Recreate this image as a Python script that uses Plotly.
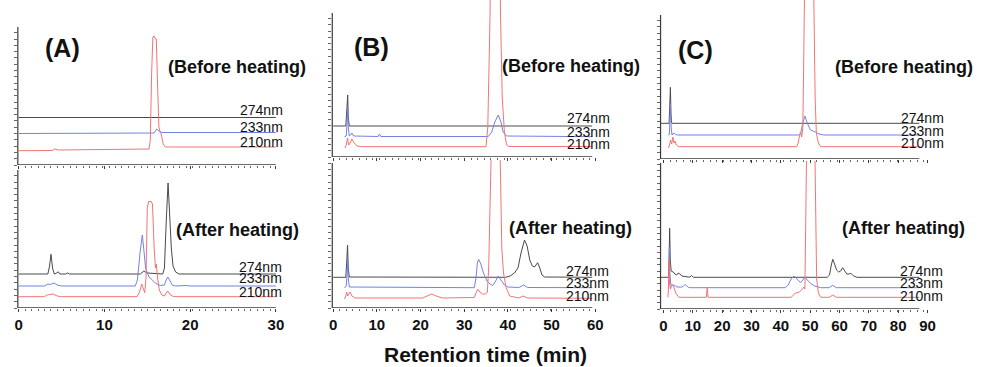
import plotly.graph_objects as go

W, H = 982, 367

# ---------------- data (retention time in min, signal in arbitrary units) ----------------
# Panel A, before heating
A_before_274_t = [0, 30]
A_before_274_y = [47.5, 47.5]
A_before_233_t = [0, 15.8, 16.1, 16.35, 16.7, 30]
A_before_233_y = [31.5, 32, 36, 34, 32.5, 32.5]
A_before_210_t = [0, 3.9, 4.2, 4.6, 15.2, 15.35, 15.5, 15.65, 15.8, 15.95, 16.05, 16.2, 16.35, 16.5, 16.65, 16.85, 17.1, 30]
A_before_210_y = [14.3, 14.5, 16, 15, 16, 25, 90, 128, 129, 126, 126, 80, 38, 33, 30, 21, 18, 18]

# Panel A, after heating
A_after_274_t = [0, 3.4, 3.6, 3.77, 3.95, 4.15, 4.45, 4.6, 4.8, 5.5, 5.7, 5.9, 14.2, 14.6, 15.0, 16.8, 17.0, 17.2, 17.42, 17.6, 17.8, 18.0, 18.3, 18.7, 30]
A_after_274_y = [34, 34, 42, 53.7, 40, 34, 35, 36.3, 34, 34, 35, 34, 34, 37, 35, 34, 40, 85, 125, 95, 60, 42, 36, 34, 34]
A_after_233_t = [0, 3.0, 3.4, 3.7, 4.1, 4.5, 5.0, 13.6, 13.85, 14.15, 14.42, 14.6, 14.8, 15.2, 15.6, 16.0, 16.5, 17.0, 17.2, 17.4, 17.6, 17.9, 18.3, 19.5, 20, 30]
A_after_233_y = [22, 22, 24, 23.5, 25, 23, 22, 22, 28, 55, 73, 58, 40, 31, 28, 24.5, 22.5, 23, 28, 31, 28, 23, 22, 22.5, 22, 22]
A_after_210_t = [0, 3.0, 3.3, 3.6, 4.0, 4.5, 5.0, 13.8, 14.1, 14.35, 14.55, 14.7, 14.85, 15.0, 15.15, 15.45, 15.6, 15.8, 15.95, 16.05, 16.2, 16.4, 16.7, 17.0, 17.2, 17.4, 17.7, 18.1, 30]
A_after_210_y = [11.3, 11.3, 13, 13.5, 14, 12, 11.3, 11.3, 16, 24, 19, 15.3, 30, 100, 106.5, 106.5, 104, 60, 40, 44, 30, 18, 13, 12, 15, 17, 13, 11.3, 11.3]

# Panel B, before heating
B_before_274_t = [0, 2.9, 3.1, 3.33, 3.45, 3.7, 59.3]
B_before_274_y = [31, 31, 45, 62, 40, 31, 31]
B_before_233_t = [2.6, 3.0, 3.2, 3.33, 3.45, 3.7, 4.0, 4.3, 4.7, 10.3, 10.6, 10.9, 35.5, 36.3, 37.0, 37.8, 38.4, 38.9, 39.7, 59.3]
B_before_233_y = [20.3, 21, 35, 50, 30, 21, 22, 24, 21, 20.5, 23, 20.5, 20.5, 25, 35, 42, 35, 25, 21, 20.3]
B_before_210_t = [2.7, 3.0, 3.3, 3.55, 3.9, 4.3, 4.8, 5.5, 6.5, 35.0, 35.4, 35.92, 36.1, 38.1, 38.3, 38.7, 39.2, 39.7, 40.2, 59.3]
B_before_210_y = [9, 12, 19, 12, 14, 18, 14, 11, 10.3, 10.3, 30, 144, 300, 300, 144, 60, 25, 12, 10.5, 10.5]

# Panel B, after heating
B_after_274_t = [0, 2.9, 3.1, 3.3, 3.45, 3.7, 39.5, 40.5, 41.5, 42.3, 43.0, 43.8, 44.4, 45.0, 45.6, 46.1, 46.8, 47.3, 47.8, 48.4, 59.3]
B_after_274_y = [30.7, 30.7, 45, 63, 40, 31, 30.7, 32, 35, 40, 55, 68, 62, 48, 42, 41, 45.3, 40, 33, 31, 30.7]
B_after_233_t = [2.6, 3.0, 3.2, 3.33, 3.45, 3.7, 32.3, 32.7, 33.0, 33.3, 33.8, 34.4, 35.2, 35.9, 36.5, 37.2, 37.8, 38.4, 39.2, 40.0, 42.5, 43.6, 44.5, 59.3]
B_after_233_y = [20, 22, 35, 48, 30, 21, 20.3, 30, 45, 48.7, 44, 35, 27, 24, 22.5, 27, 32, 28, 23, 21, 20.5, 23, 20.5, 20.3]
B_after_210_t = [2.6, 2.9, 3.1, 3.3, 3.6, 3.9, 4.3, 5.0, 20.5, 21.5, 22.6, 23.6, 25.0, 32.3, 32.7, 33.1, 33.6, 34.2, 34.9, 35.3, 35.6, 36.2, 38.2, 38.6, 39.0, 39.6, 40.4, 42.5, 43.5, 44.5, 59.3]
B_after_210_y = [9, 12, 16, 12, 14, 16, 12, 10, 10, 12, 14, 12, 10, 10.5, 15, 18.7, 16, 14, 14, 16, 40, 160, 160, 60, 35, 20, 12, 10, 12, 10, 9.7]

# Panel C, before heating
C_before_274_t = [-1, 1.9, 2.1, 2.36, 2.55, 2.8, 87.2]
C_before_274_y = [35.7, 35.7, 50, 71.7, 45, 35.7, 35.7]
C_before_233_t = [1.6, 2.0, 2.2, 2.4, 2.6, 2.9, 3.5, 4.1, 4.8, 46.0, 46.7, 47.5, 48.2, 49.0, 50.1, 51.8, 53.0, 54.6, 87.2]
C_before_233_y = [24, 24.5, 40, 55, 32, 24, 26, 24.5, 24, 24, 25, 36, 43, 36, 29, 27, 25, 24, 24]
C_before_210_t = [1.6, 2.0, 2.4, 2.8, 3.2, 3.6, 3.9, 4.4, 5.2, 45.4, 45.9, 46.3, 46.7, 47.1, 47.5, 48.1, 51.2, 51.7, 52.1, 52.8, 53.6, 87.2]
C_before_210_y = [11, 13, 19, 15, 22, 16, 18, 14, 12.3, 12.3, 16, 22, 27, 22, 30, 170, 170, 60, 26, 16, 12.3, 12.3]

# Panel C, after heating
C_after_274_t = [-1, 1.7, 1.95, 2.1, 2.3, 2.6, 3.3, 3.9, 4.5, 5.0, 5.6, 6.3, 8.4, 9.0, 9.6, 10.2, 55.8, 56.6, 57.2, 57.7, 58.3, 59.0, 59.7, 60.4, 61.1, 61.8, 62.5, 63.2, 63.9, 64.8, 65.9, 87.2]
C_after_274_y = [31.7, 31.7, 55, 80.7, 50, 38, 37, 35, 34, 36, 35, 33, 32, 32, 33.5, 31.7, 31.7, 34, 44, 49.7, 45, 39, 37, 38, 41.3, 38, 35, 35, 35.7, 33, 31.7, 31.7]
C_after_233_t = [1.5, 1.8, 2.0, 2.2, 2.5, 3.0, 3.8, 4.6, 6.5, 7.4, 8.3, 9.0, 41.5, 42.5, 43.5, 44.5, 45.5, 46.7, 47.5, 48.2, 49.0, 50.1, 51.5, 53.6, 56.5, 57.7, 58.9, 87.2]
C_after_233_y = [21.3, 22, 62, 35, 24, 24, 23.5, 22, 22, 24.7, 22, 21.3, 21.3, 24, 30, 33, 30, 26.3, 29, 32.3, 29, 25.7, 23, 21.3, 21.3, 23.7, 21.3, 21.3]
C_after_210_t = [1.5, 1.7, 1.9, 2.1, 2.4, 2.8, 3.3, 4.2, 5.2, 14.6, 14.9, 15.2, 43.5, 44.9, 46.3, 47.1, 47.9, 48.2, 48.8, 51.6, 52.2, 52.8, 53.6, 56.5, 57.7, 58.9, 87.2]
C_after_210_y = [11.7, 20, 50, 25, 20, 24, 24, 16, 11.7, 11.7, 21.3, 11.7, 11.7, 15.7, 17, 19, 22, 20, 160, 160, 30, 16, 11.7, 11.7, 14, 11.7, 11.7]

wavelengths = ["274nm", "233nm", "210nm"]
panel_letters = ["(A)", "(B)", "(C)"]
condition_labels = ["(Before heating)", "(After heating)"]
x_tick_labels_A = [0, 10, 20, 30]
x_tick_labels_B = [0, 10, 20, 30, 40, 50, 60]
x_tick_labels_C = [0, 10, 20, 30, 40, 50, 60, 70, 80, 90]
x_axis_title = "Retention time (min)"

# ---------------- styling / layout helpers ----------------
C_BLACK = "#4a4a4a"
C_BLUE = "#7482e2"
C_RED = "#f27474"
AXIS_C = "#3a3a3a"
FONT = "Liberation Sans, Arial, sans-serif"


def pxx(x):
    return x / W


def pxy(y):
    return 1 - y / H


subplots = [
    dict(xl=15, xr=276, yt=27, yb=165, at=27, xr_=[-0.1, 30], xend=30, ticks=x_tick_labels_A, lab=False),
    dict(xl=15, xr=276, yt=170, yb=308, at=170, xr_=[-0.1, 30], xend=30, ticks=x_tick_labels_A, lab=True),
    dict(xl=333, xr=599, yt=0, yb=157, at=13, xr_=[-0.2, 60], xend=59.3, ticks=x_tick_labels_B, lab=False),
    dict(xl=333, xr=599, yt=160, yb=308, at=163, xr_=[-0.2, 60], xend=59.3, ticks=x_tick_labels_B, lab=True),
    dict(xl=665, xr=935, yt=0, yb=159, at=15, xr_=[-1, 90], xend=87.2, ticks=x_tick_labels_C, lab=False),
    dict(xl=665, xr=935, yt=161, yb=309, at=163, xr_=[-1, 90], xend=87.2, ticks=x_tick_labels_C, lab=True),
]

series = [
    [(A_before_274_t, A_before_274_y), (A_before_233_t, A_before_233_y), (A_before_210_t, A_before_210_y)],
    [(A_after_274_t, A_after_274_y), (A_after_233_t, A_after_233_y), (A_after_210_t, A_after_210_y)],
    [(B_before_274_t, B_before_274_y), (B_before_233_t, B_before_233_y), (B_before_210_t, B_before_210_y)],
    [(B_after_274_t, B_after_274_y), (B_after_233_t, B_after_233_y), (B_after_210_t, B_after_210_y)],
    [(C_before_274_t, C_before_274_y), (C_before_233_t, C_before_233_y), (C_before_210_t, C_before_210_y)],
    [(C_after_274_t, C_after_274_y), (C_after_233_t, C_after_233_y), (C_after_210_t, C_after_210_y)],
]
colors = [C_BLACK, C_BLUE, C_RED]

fig = go.Figure()
layout = dict(
    width=W, height=H, margin=dict(l=0, r=0, t=0, b=0),
    paper_bgcolor="white", plot_bgcolor="white", showlegend=False,
    font=dict(family=FONT, color="#111"),
)
shapes = []

for i, sp in enumerate(subplots):
    n = i + 1
    xa = "x" if n == 1 else f"x{n}"
    ya = "y" if n == 1 else f"y{n}"
    ymax = sp["yb"] - sp["yt"]
    axis_h = sp["yb"] - sp["at"]
    for (t, v), c in zip(series[i], colors):
        fig.add_trace(go.Scatter(x=t, y=v, mode="lines", line=dict(color=c, width=1, simplify=False),
                                 xaxis=xa, yaxis=ya, hoverinfo="skip"))
    span = sp["xr_"][1] - sp["xr_"][0]
    layout["xaxis" if n == 1 else f"xaxis{n}"] = dict(
        domain=[pxx(sp["xl"]), pxx(sp["xr"])], range=sp["xr_"], anchor=ya,
        showgrid=False, zeroline=False, showline=False,
        tickmode="array", tickvals=sp["ticks"], ticktext=[str(v) for v in sp["ticks"]],
        showticklabels=sp["lab"], ticks="outside", ticklen=3, tickwidth=1, tickcolor=AXIS_C,
        tickfont=dict(family=FONT, size=15, color="#111", weight="bold"),
        minor=dict(ticks="outside", dtick=span / 40, ticklen=2, tickcolor="#666", showgrid=False),
        fixedrange=True,
    )
    ytick_vals = [k * 6.3 for k in range(int(axis_h / 6.3) + 1)]
    layout["yaxis" if n == 1 else f"yaxis{n}"] = dict(
        domain=[pxy(sp["yb"]), pxy(sp["yt"])], range=[0, ymax], anchor=xa,
        showgrid=False, zeroline=False, showline=False, showticklabels=False,
        tickmode="array", tickvals=ytick_vals, ticks="outside", ticklen=3, tickcolor="#666",
        fixedrange=True,
    )
    shapes.append(dict(type="line", xref=f"{xa} domain", yref=ya, x0=0, x1=0, y0=0, y1=axis_h,
                       line=dict(color=AXIS_C, width=1.2)))
    shapes.append(dict(type="line", xref=xa, yref=ya, x0=sp["xr_"][0], x1=sp["xend"], y0=0, y1=0,
                       line=dict(color=AXIS_C, width=1.3)))

layout["shapes"] = shapes

ann = []


def text(x, y, s, size, bold=False, xanchor="center"):
    ann.append(dict(x=pxx(x), y=pxy(y), xref="paper", yref="paper", text=s, showarrow=False,
                    xanchor=xanchor, yanchor="middle",
                    font=dict(family=FONT, size=size, color="#111", weight="bold" if bold else "normal")))


text(60, 48, panel_letters[0], 25, True)
text(372.5, 47, panel_letters[1], 25, True)
text(700.5, 50, panel_letters[2], 25, True)
text(236.5, 67, condition_labels[0], 18, True)
text(237.5, 230, condition_labels[1], 18, True)
text(574, 66, condition_labels[0], 18, True)
text(573.5, 228.3, condition_labels[1], 18, True)
text(911, 66.7, condition_labels[0], 18, True)
text(911, 227.7, condition_labels[1], 18, True)
wl_pos = [
    (238, [110, 127, 142]),
    (237, [266.7, 278.3, 291.7]),
    (568, [117.7, 131.7, 144.3]),
    (567, [271, 283.3, 296]),
    (906, [118.3, 130.7, 143.3]),
    (905, [271, 283.3, 295.7]),
]
for xl, ys in wl_pos:
    for s, yy in zip(wavelengths, ys):
        text(xl, yy, s, 14, False, "left")

text(487.5, 354, x_axis_title, 21, True)

layout["annotations"] = ann
fig.update_layout(**layout)
fig.write_html("out.html", config={"displayModeBar": False},
               post_script="document.body.style.margin='0';document.body.style.overflow='hidden';")
